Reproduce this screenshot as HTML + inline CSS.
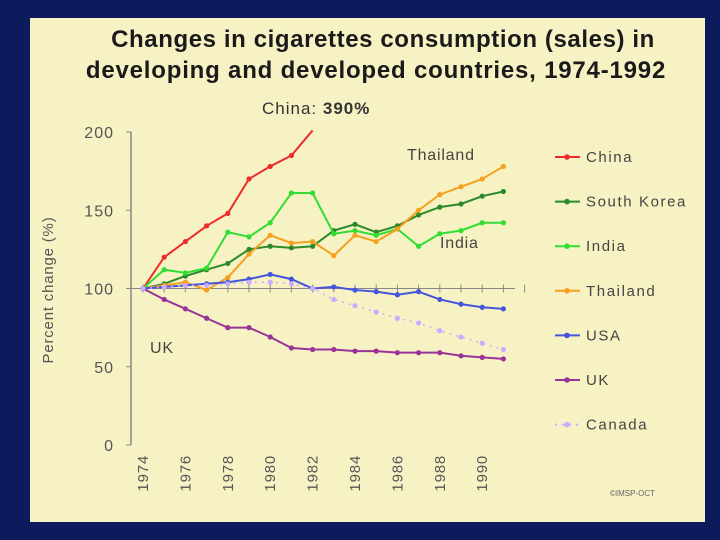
<!DOCTYPE html>
<html><head><meta charset="utf-8"><style>
body{margin:0;background:#0b1b5c;width:720px;height:540px;overflow:hidden}
svg{display:block}
text{font-family:"Liberation Sans",Arial,sans-serif}
</style></head><body>
<svg id="c" width="720" height="540">
<rect x="0" y="0" width="720" height="540" fill="#0b1b5c"/>
<rect x="30" y="18" width="675" height="504" fill="#f7f2c4"/>
<text x="383" y="47" text-anchor="middle" font-size="24" font-weight="bold" letter-spacing="0.6" fill="#1a1a1a">Changes in cigarettes consumption (sales) in</text>
<text x="376" y="78" text-anchor="middle" font-size="24" font-weight="bold" letter-spacing="0.8" fill="#1a1a1a">developing and developed countries, 1974-1992</text>
<text x="262" y="114" font-size="17" letter-spacing="1" fill="#333">China: <tspan font-weight="bold">390%</tspan></text>
<text x="407" y="160" font-size="16" letter-spacing="0.8" fill="#444">Thailand</text>
<text x="440" y="248" font-size="16" letter-spacing="0.8" fill="#444">India</text>
<text x="150" y="353" font-size="16" letter-spacing="0.8" fill="#444">UK</text>
<text x="53" y="290" font-size="15" letter-spacing="0.8" fill="#555" text-anchor="middle" transform="rotate(-90 53 290)">Percent change (%)</text>
<text x="610" y="496" font-size="8" fill="#666">©IMSP-OCT</text>
<g id="g"></g>
</svg>
<script>
const years=[1974,1975,1976,1977,1978,1979,1980,1981,1982,1983,1984,1985,1986,1987,1988,1989,1990,1991];
const yTicks=[0,50,100,150,200];
const xTickLabels=[1974,1976,1978,1980,1982,1984,1986,1988,1990];
const china=[100,120,130,140,148,170,178,185,201];
const southKorea=[100,103,108,112,116,125,127,126,127,137,141,136,140,147,152,154,159,162];
const india=[100,112,110,113,136,133,142,161,161,135,137,134,138,127,135,137,142,142];
const thailand=[100,102,104,99,107,122,134,129,130,121,134,130,138,150,160,165,170,178];
const usa=[100,101,102,103,104,106,109,106,100,101,99,98,96,98,93,90,88,87];
const uk=[100,93,87,81,75,75,69,62,61,61,60,60,59,59,59,57,56,55];
const canada=[100,101,102,102,103,104,104,103,100,93,89,85,81,78,73,69,65,61];
const seriesNames=["China","South Korea","India","Thailand","USA","UK","Canada"];
const NS="http://www.w3.org/2000/svg";
const g=document.getElementById('g');
const X=y=>143+(y-1974)*21.2;
const Y=v=>445-v*1.565;
function mk(t,a){const e=document.createElementNS(NS,t);for(const k in a)e.setAttribute(k,a[k]);g.appendChild(e);return e;}
let ax=mk('line',{x1:131,y1:Y(200),x2:131,y2:Y(0),stroke:'#888','stroke-width':1.5});


yTicks.forEach(v=>{
 let t=mk('line',{x1:126,y1:Y(v),x2:131,y2:Y(v),stroke:'#888'});
 
 
 let l=mk('text',{x:114,y:Y(v)+6,'text-anchor':'end','font-size':16,'letter-spacing':1,fill:'#555'});l.textContent=v;
 
 
});
let base=mk('line',{x1:131,y1:Y(100),x2:515,y2:Y(100),stroke:'#888','stroke-width':1});


years.concat([1992]).forEach(y=>{
 let t=mk('line',{x1:X(y),y1:Y(100)-4,x2:X(y),y2:Y(100)+4,stroke:'#888'});
 
 
});
xTickLabels.forEach(y=>{
 let l=mk('text',{x:0,y:0,'font-size':15,'letter-spacing':0.8,fill:'#555','text-anchor':'end',transform:`translate(${X(y)+5},${455}) rotate(-90)`});l.textContent=y;
 
 
});
const cols=['#ee2a2a','#2a8a2a','#33dd33','#f5a020','#4455dd','#993399','#ccaaff'];
const data=[china,southKorea,india,thailand,usa,uk,canada];
data.forEach((arr,i)=>{
 const pts=arr.map((v,j)=>X(years[j])+','+Y(v)).join(' ');
 let p=mk('polyline',{points:pts,fill:'none',stroke:cols[i],'stroke-width':i==6?1.5:2,'stroke-dasharray':i==6?'2 5':'none'});
 
 
 arr.forEach((v,j)=>{
  if(i==0&&j==arr.length-1)return;
  let m=mk('circle',{cx:X(years[j]),cy:Y(v),r:2.6,fill:cols[i]});
  
  
 });
 const ly=157+i*44.6;
 let ll=mk('line',{x1:555,y1:ly,x2:580,y2:ly,stroke:cols[i],'stroke-width':2,'stroke-dasharray':i==6?'2 5':'none'});
 
 
 let lm=mk('circle',{cx:567,cy:ly,r:2.8,fill:cols[i]});
 
 
 let lt=mk('text',{x:586,y:ly+5,'font-size':15,'letter-spacing':1.6,fill:'#444'});lt.textContent=seriesNames[i];
 
 
});
</script>
</body></html>
